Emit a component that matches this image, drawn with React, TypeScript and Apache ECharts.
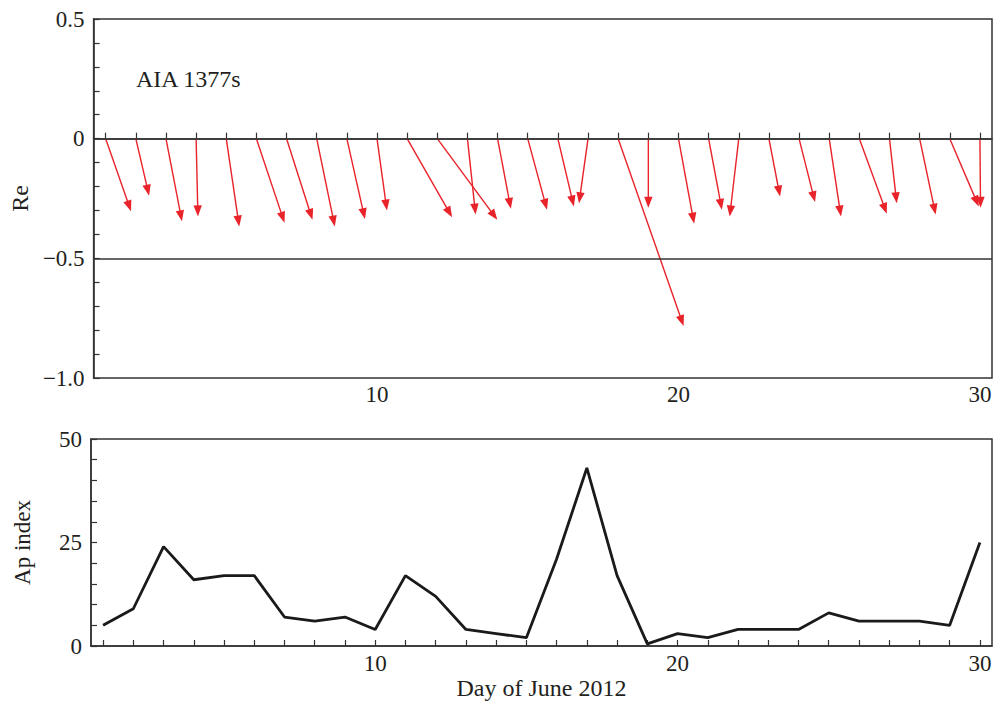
import React, { useEffect, useRef } from "react";
import * as echarts from "echarts";

const days = Array.from({ length: 30 }, (_, i) => i + 1);
// Re arrows: start at (day, 0); end at (day + dx, dy)
const arrowDx = [0.84, 0.44, 0.53, 0.06, 0.43, 0.93, 0.86, 0.6, 0.6, 0.33, 1.49, 1.99, 0.27, 0.44, 0.64, 0.53, -0.3, 2.17, 0, 0.52, 0.44, -0.3, 0.37, 0.53, 0.39, 0.91, 0.24, 0.53, 0.96, 0.02];
const arrowDy = [-0.303, -0.238, -0.345, -0.325, -0.367, -0.351, -0.339, -0.367, -0.336, -0.3, -0.328, -0.339, -0.317, -0.293, -0.297, -0.283, -0.27, -0.783, -0.289, -0.355, -0.297, -0.325, -0.242, -0.265, -0.325, -0.314, -0.27, -0.317, -0.283, -0.289];
const apIndex = [5, 9, 24, 16, 17, 17, 7, 6, 7, 4, 17, 12, 4, 3, 2, 21, 43, 17, 0.5, 3, 2, 4, 4, 4, 8, 6, 6, 6, 5, 25];
const xLabelDays = [10, 20, 30];
const reRefLines = [0, -0.5];

const FONT = "Liberation Serif";
const TXT = "#231f20";
const AX = "#333333";
const RED = "#e8232a";

function fmtRe(v: number) {
  if (v === 0) return "0";
  if (v === -1) return "\u22121.0";
  return String(v).replace("-", "\u2212");
}

export default function App() {
  const ref = useRef<HTMLDivElement>(null);
  useEffect(() => {
    if (!ref.current) return;
    const chart = echarts.init(ref.current, null, { renderer: "svg" });
    const axisCommon = {
      axisLine: { show: true, lineStyle: { color: AX, width: 1.5 } },
      splitLine: { show: false },
    };
    const arrowData = days.map((d, i) => [d, arrowDx[i], arrowDy[i]]);
    chart.setOption({
      animation: false,
      backgroundColor: "#ffffff",
      textStyle: { fontFamily: FONT, color: TXT },
      grid: [
        { left: 91, right: 3, top: 19, height: 359, show: true, borderColor: AX, borderWidth: 1.5 },
        { left: 91, right: 3, top: 439, height: 208, show: true, borderColor: AX, borderWidth: 1.5 },
      ],
      xAxis: [
        {
          type: "value", gridIndex: 0, min: 0.6, max: 30.4,
          ...axisCommon,
          axisTick: { show: true, inside: true, length: 6, customValues: days, lineStyle: { color: AX, width: 1.2 } },
          axisLabel: { show: true, customValues: xLabelDays, margin: 5, fontSize: 23, fontFamily: FONT, color: TXT },
        },
        {
          type: "value", gridIndex: 1, min: 0.6, max: 30.4,
          ...axisCommon,
          axisTick: { show: true, inside: true, length: 6, customValues: days, lineStyle: { color: AX, width: 1.2 } },
          axisLabel: { show: true, customValues: xLabelDays, margin: 6, fontSize: 23, fontFamily: FONT, color: TXT },
          name: "Day of June 2012", nameLocation: "middle", nameGap: 30,
          nameTextStyle: { fontSize: 24, fontFamily: FONT, color: TXT },
        },
      ],
      yAxis: [
        {
          type: "value", gridIndex: 0, min: -1, max: 0.5, interval: 0.5,
          ...axisCommon,
          axisTick: { show: true, inside: true, length: 6, lineStyle: { color: AX, width: 1.2 } },
          minorTick: { show: true, splitNumber: 5, length: 6, lineStyle: { color: AX, width: 1.2 } },
          axisLabel: { formatter: fmtRe, margin: 9, fontSize: 23, fontFamily: FONT, color: TXT },
          name: "Re", nameLocation: "middle", nameGap: 57,
          nameTextStyle: { fontSize: 24, fontFamily: FONT, color: TXT },
        },
        {
          type: "value", gridIndex: 1, min: 0, max: 50, interval: 25,
          ...axisCommon,
          axisTick: { show: true, inside: true, length: 6, lineStyle: { color: AX, width: 1.2 } },
          minorTick: { show: true, splitNumber: 5, length: 6, lineStyle: { color: AX, width: 1.2 } },
          axisLabel: { margin: 9, fontSize: 23, fontFamily: FONT, color: TXT },
          name: "Ap index", nameLocation: "middle", nameGap: 57,
          nameTextStyle: { fontSize: 23, fontFamily: FONT, color: TXT },
        },
      ],
      graphic: [
        {
          type: "text", left: 136, top: 67,
          style: { text: "AIA 1377s", fontSize: 24, fontFamily: FONT, fill: TXT },
        },
      ],
      series: [
        {
          type: "custom",
          xAxisIndex: 0, yAxisIndex: 0,
          data: arrowData,
          renderItem: (params: any, api: any) => {
            const x0 = api.value(0), dx = api.value(1), dy = api.value(2);
            const p0 = api.coord([x0, 0]);
            const p1 = api.coord([x0 + dx, dy]);
            const ang = Math.atan2(p1[1] - p0[1], p1[0] - p0[0]);
            const c = Math.cos(ang), s = Math.sin(ang);
            const L = 11, W = 4.2;
            const bx = p1[0] - L * c, by = p1[1] - L * s;
            return {
              type: "group",
              children: [
                { type: "line", shape: { x1: p0[0], y1: p0[1], x2: bx + 2 * c, y2: by + 2 * s }, style: { stroke: RED, lineWidth: 1.4 } },
                { type: "polygon", shape: { points: [[p1[0], p1[1]], [bx - W * s, by + W * c], [bx + W * s, by - W * c]] }, style: { fill: RED } },
              ],
            };
          },
          markLine: {
            silent: true, symbol: "none", label: { show: false },
            lineStyle: { color: AX, width: 1.5, type: "solid" },
            data: reRefLines.map((v) => ({ yAxis: v })),
          },
          z: 3,
        },
        {
          type: "line",
          xAxisIndex: 1, yAxisIndex: 1,
          data: days.map((d, i) => [d, apIndex[i]]),
          showSymbol: false, symbol: "none",
          lineStyle: { color: "#1a1a1a", width: 2.8 },
        },
      ],
    });
    return () => chart.dispose();
  }, []);
  return <div ref={ref} style={{ position: "fixed", left: 0, top: 0, width: 995, height: 701 }} />;
}
